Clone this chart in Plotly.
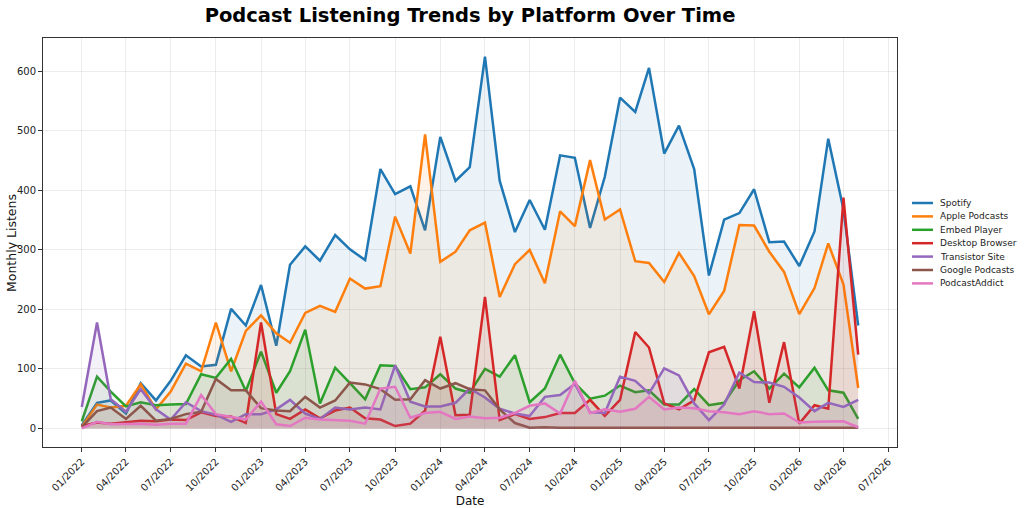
import pandas as pd
import plotly.graph_objects as go

dates = pd.date_range("2022-01-01", periods=53, freq="MS")

spotify = [5, 43, 47, 25, 76, 47, 80, 123, 104, 107, 201, 173, 241, 139, 275, 306, 282, 325, 301, 283,
           436, 394, 407, 333, 490, 416, 439, 625, 416, 330, 384, 334, 459, 455, 337, 423, 556, 532, 606, 462,
           509, 436, 257, 351, 362, 402, 313, 314, 273, 331, 487, 368, 173]
apple = [3, 40, 35, 38, 74, 32, 62, 109, 96, 178, 96, 164, 190, 160, 144, 194, 206, 196, 252, 235,
         239, 356, 294, 494, 280, 297, 333, 346, 221, 276, 300, 244, 365, 340, 451, 351, 368, 281, 278, 246,
         295, 256, 192, 231, 342, 341, 297, 263, 192, 236, 311, 242, 68]
embed = [12, 87, 62, 37, 44, 39, 40, 41, 91, 85, 117, 63, 129, 60, 96, 166, 42, 102, 76, 49,
         106, 105, 66, 69, 91, 67, 60, 100, 87, 123, 44, 67, 124, 76, 50, 55, 72, 61, 64, 40,
         40, 66, 39, 43, 81, 96, 67, 92, 69, 102, 64, 60, 16]
desktop = [4, 10, 8, 10, 13, 12, 15, 14, 27, 21, 20, 9, 178, 24, 16, 32, 17, 30, 35, 17,
           15, 4, 8, 30, 154, 22, 23, 221, 14, 24, 16, 19, 26, 26, 48, 21, 48, 162, 136, 42,
           32, 47, 128, 137, 67, 197, 43, 145, 8, 39, 33, 388, 124]
transistor = [36, 178, 49, 28, 66, 32, 15, 44, 29, 23, 11, 24, 24, 32, 48, 25, 16, 35, 32, 35,
              32, 106, 45, 37, 37, 43, 67, 52, 33, 25, 21, 53, 56, 75, 27, 26, 87, 80, 59, 101,
              89, 42, 14, 40, 94, 78, 77, 70, 52, 29, 43, 36, 48]
google = [2, 29, 35, 16, 38, 13, 16, 24, 28, 83, 64, 64, 34, 30, 29, 53, 35, 47, 77, 74,
          66, 48, 49, 81, 67, 76, 66, 64, 32, 9, 1, 2, 1, 1, 1, 1, 2, 2, 1, 2,
          1, 1, 1, 1, 1, 1, 1, 1, 1, 1, 1, 1, 1]
podcastaddict = [0, 11, 7, 7, 8, 6, 8, 8, 56, 24, 20, 15, 45, 7, 4, 18, 15, 14, 13, 8,
                 67, 70, 18, 26, 28, 16, 20, 17, 18, 26, 38, 42, 25, 80, 26, 32, 28, 33, 53, 32,
                 35, 34, 29, 27, 24, 29, 24, 25, 10, 11, 11, 12, 2]

series_names = ["Spotify", "Apple Podcasts", "Embed Player", "Desktop Browser",
                "Transistor Site", "Google Podcasts", "PodcastAddict"]
series_values = [spotify, apple, embed, desktop, transistor, google, podcastaddict]
colors = ["#1f77b4", "#ff7f0e", "#2ca02c", "#d62728", "#9467bd", "#8c564b", "#e377c2"]


def rgba(hex_color, a):
    h = hex_color.lstrip("#")
    r, g, b = int(h[0:2], 16), int(h[2:4], 16), int(h[4:6], 16)
    return f"rgba({r},{g},{b},{a})"


W, H = 1024, 508
ML, MR, MT, MB = 43, 127, 38, 61
PW, PH = W - ML - MR, H - MT - MB


def px_to_paper(px, py):
    return (px - ML) / PW, (H - MB - py) / PH


fig = go.Figure()
for name, vals, col in zip(series_names, series_values, colors):
    fig.add_trace(go.Scatter(
        x=dates, y=vals, name=name, mode="lines",
        line=dict(color=col, width=2.5),
        fill="tozeroy", fillcolor=rgba(col, 0.09),
        showlegend=False,
    ))

# matplotlib-style compact legend drawn with shapes + text annotations
for k, (name, col) in enumerate(zip(series_names, colors)):
    py = 203 + 13.4 * k
    x0, yp = px_to_paper(912, py)
    x1, _ = px_to_paper(933, py)
    xt, _ = px_to_paper(938, py)
    fig.add_shape(type="line", xref="paper", yref="paper", x0=x0, x1=x1, y0=yp, y1=yp,
                  line=dict(color=col, width=2.5))
    fig.add_annotation(xref="paper", yref="paper", x=xt, y=yp, text=name, showarrow=False,
                       xanchor="left", yanchor="middle",
                       font=dict(size=9, color="#222222"))

# y-axis title placed like matplotlib's
xy, yy = px_to_paper(12, 243)
fig.add_annotation(xref="paper", yref="paper", x=xy, y=yy, text="Monthly Listens",
                   textangle=-90, showarrow=False, xanchor="center", yanchor="middle",
                   font=dict(size=12.5, color="#111111"))

margin_days = pd.Timedelta(days=79)
axis_common = dict(
    showline=True, mirror=True, linecolor="#333333", linewidth=1,
    showgrid=True, gridcolor="rgba(0,0,0,0.07)", gridwidth=1,
    ticks="outside", ticklen=4, tickcolor="#333333",
    zeroline=False, automargin=False,
    tickfont=dict(size=10, color="#222222"),
)

fig.update_layout(
    width=W, height=H,
    paper_bgcolor="white", plot_bgcolor="white",
    font=dict(family="DejaVu Sans", color="#111111"),
    margin=dict(l=ML, r=MR, t=MT, b=MB, autoexpand=False),
    title=dict(text="<b>Podcast Listening Trends by Platform Over Time</b>",
               x=0.5, xref="paper", xanchor="center", y=0.971, yanchor="middle",
               font=dict(size=19.5, color="#000000")),
    showlegend=False,
)
fig.update_xaxes(
    **axis_common,
    range=[dates[0] - margin_days, dates[-1] + margin_days],
    tick0="2022-01-01", dtick="M3", tickformat="%m/%Y", tickangle=-45,
    title=dict(text="Date", font=dict(size=12, color="#111111")),
)
fig.update_yaxes(
    **axis_common,
    range=[-31.25, 656.25], tick0=0, dtick=100,
)

fig.write_html("out.html",
               config={"displayModeBar": False},
               post_script="document.body.style.margin='0px';document.body.style.overflow='hidden';")
